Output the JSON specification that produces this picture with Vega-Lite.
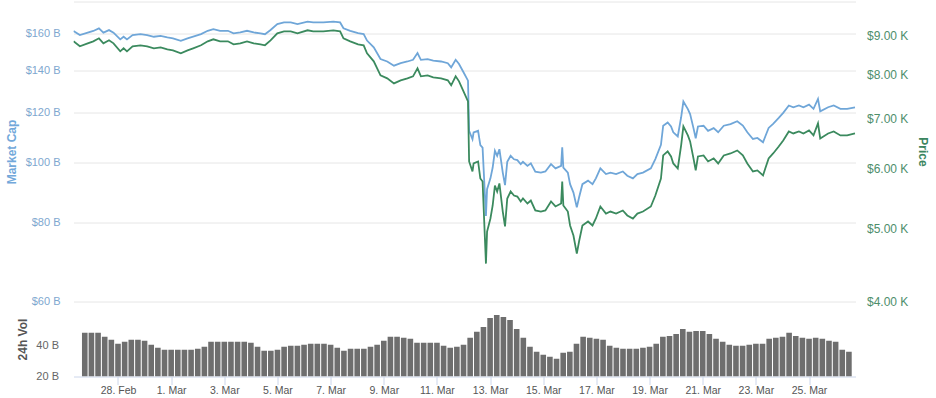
{
  "$schema": "https://vega.github.io/schema/vega-lite/v6.json",
  "padding": {"left": 4.5, "top": 1.5, "right": 4, "bottom": 1},
  "bounds": "flush",
  "spacing": 0,
  "background": "white",
  "config": {"view": {"stroke": null}, "font": "Liberation Sans"},
  "datasets": {
    "prices": [
      {"time": "2020-02-26T12:20", "price": 8855, "market_cap_b": 161.6},
      {"time": "2020-02-26T18:00", "price": 8721, "market_cap_b": 159.2},
      {"time": "2020-02-27T01:00", "price": 8801, "market_cap_b": 160.6},
      {"time": "2020-02-27T06:00", "price": 8855, "market_cap_b": 161.6},
      {"time": "2020-02-27T11:00", "price": 8937, "market_cap_b": 163.1},
      {"time": "2020-02-27T15:00", "price": 8801, "market_cap_b": 160.6},
      {"time": "2020-02-27T20:00", "price": 8882, "market_cap_b": 162.1},
      {"time": "2020-02-28T00:00", "price": 8801, "market_cap_b": 160.6},
      {"time": "2020-02-28T06:00", "price": 8589, "market_cap_b": 156.7},
      {"time": "2020-02-28T09:00", "price": 8668, "market_cap_b": 158.2},
      {"time": "2020-02-28T12:00", "price": 8589, "market_cap_b": 156.7},
      {"time": "2020-02-28T17:00", "price": 8721, "market_cap_b": 159.2},
      {"time": "2020-02-29T00:00", "price": 8748, "market_cap_b": 159.7},
      {"time": "2020-02-29T06:00", "price": 8721, "market_cap_b": 159.2},
      {"time": "2020-02-29T12:00", "price": 8668, "market_cap_b": 158.2},
      {"time": "2020-02-29T18:00", "price": 8694, "market_cap_b": 158.7},
      {"time": "2020-03-01T00:00", "price": 8641, "market_cap_b": 157.8},
      {"time": "2020-03-01T05:00", "price": 8615, "market_cap_b": 157.3},
      {"time": "2020-03-01T12:00", "price": 8536, "market_cap_b": 155.9},
      {"time": "2020-03-01T18:00", "price": 8615, "market_cap_b": 157.3},
      {"time": "2020-03-01T23:00", "price": 8668, "market_cap_b": 158.3},
      {"time": "2020-03-02T06:00", "price": 8748, "market_cap_b": 159.7},
      {"time": "2020-03-02T12:00", "price": 8855, "market_cap_b": 161.7},
      {"time": "2020-03-02T17:00", "price": 8910, "market_cap_b": 162.7},
      {"time": "2020-03-02T23:00", "price": 8855, "market_cap_b": 161.7},
      {"time": "2020-03-03T06:00", "price": 8855, "market_cap_b": 161.7},
      {"time": "2020-03-03T11:00", "price": 8774, "market_cap_b": 160.2},
      {"time": "2020-03-03T17:00", "price": 8801, "market_cap_b": 160.7},
      {"time": "2020-03-03T23:00", "price": 8855, "market_cap_b": 161.7},
      {"time": "2020-03-04T05:00", "price": 8801, "market_cap_b": 160.7},
      {"time": "2020-03-04T11:00", "price": 8774, "market_cap_b": 160.2},
      {"time": "2020-03-04T15:00", "price": 8748, "market_cap_b": 159.7},
      {"time": "2020-03-04T20:00", "price": 8882, "market_cap_b": 162.2},
      {"time": "2020-03-05T02:00", "price": 9075, "market_cap_b": 165.7},
      {"time": "2020-03-05T08:00", "price": 9130, "market_cap_b": 166.7},
      {"time": "2020-03-05T14:00", "price": 9130, "market_cap_b": 166.7},
      {"time": "2020-03-05T20:00", "price": 9075, "market_cap_b": 165.7},
      {"time": "2020-03-06T05:00", "price": 9158, "market_cap_b": 167.2},
      {"time": "2020-03-06T10:00", "price": 9130, "market_cap_b": 166.7},
      {"time": "2020-03-06T19:00", "price": 9130, "market_cap_b": 166.7},
      {"time": "2020-03-07T04:00", "price": 9158, "market_cap_b": 167.2},
      {"time": "2020-03-07T10:00", "price": 9130, "market_cap_b": 166.7},
      {"time": "2020-03-07T13:00", "price": 8937, "market_cap_b": 163.2},
      {"time": "2020-03-07T19:00", "price": 8855, "market_cap_b": 161.7},
      {"time": "2020-03-08T02:00", "price": 8774, "market_cap_b": 160.3},
      {"time": "2020-03-08T07:00", "price": 8748, "market_cap_b": 159.8},
      {"time": "2020-03-08T10:00", "price": 8536, "market_cap_b": 156.0},
      {"time": "2020-03-08T16:00", "price": 8329, "market_cap_b": 152.2},
      {"time": "2020-03-08T22:00", "price": 7981, "market_cap_b": 145.8},
      {"time": "2020-03-09T04:00", "price": 7908, "market_cap_b": 144.5},
      {"time": "2020-03-09T10:00", "price": 7788, "market_cap_b": 142.3},
      {"time": "2020-03-09T16:00", "price": 7860, "market_cap_b": 143.6},
      {"time": "2020-03-09T22:00", "price": 7908, "market_cap_b": 144.5},
      {"time": "2020-03-10T03:00", "price": 7957, "market_cap_b": 145.4},
      {"time": "2020-03-10T07:00", "price": 8153, "market_cap_b": 149.0},
      {"time": "2020-03-10T10:00", "price": 7957, "market_cap_b": 145.4},
      {"time": "2020-03-10T16:00", "price": 7981, "market_cap_b": 145.8},
      {"time": "2020-03-10T21:00", "price": 7932, "market_cap_b": 144.9},
      {"time": "2020-03-11T04:00", "price": 7908, "market_cap_b": 144.5},
      {"time": "2020-03-11T10:00", "price": 7860, "market_cap_b": 143.6},
      {"time": "2020-03-11T13:00", "price": 7741, "market_cap_b": 141.4},
      {"time": "2020-03-11T17:00", "price": 7957, "market_cap_b": 145.4},
      {"time": "2020-03-11T20:00", "price": 7836, "market_cap_b": 143.2},
      {"time": "2020-03-12T00:00", "price": 7600, "market_cap_b": 138.9},
      {"time": "2020-03-12T04:00", "price": 7371, "market_cap_b": 134.7},
      {"time": "2020-03-12T05:00", "price": 6135, "market_cap_b": 112.1},
      {"time": "2020-03-12T08:00", "price": 5950, "market_cap_b": 108.7},
      {"time": "2020-03-12T09:00", "price": 6098, "market_cap_b": 111.4},
      {"time": "2020-03-12T13:00", "price": 6135, "market_cap_b": 112.1},
      {"time": "2020-03-12T15:00", "price": 5824, "market_cap_b": 106.4},
      {"time": "2020-03-12T17:00", "price": 5771, "market_cap_b": 105.4},
      {"time": "2020-03-12T20:00", "price": 4491, "market_cap_b": 82.1},
      {"time": "2020-03-12T21:00", "price": 4953, "market_cap_b": 90.5},
      {"time": "2020-03-13T00:00", "price": 5154, "market_cap_b": 94.2},
      {"time": "2020-03-13T02:00", "price": 5363, "market_cap_b": 98.0},
      {"time": "2020-03-13T04:00", "price": 5701, "market_cap_b": 104.2},
      {"time": "2020-03-13T06:00", "price": 5597, "market_cap_b": 102.3},
      {"time": "2020-03-13T08:00", "price": 5736, "market_cap_b": 104.8},
      {"time": "2020-03-13T11:00", "price": 5265, "market_cap_b": 96.2},
      {"time": "2020-03-13T13:00", "price": 5030, "market_cap_b": 91.9},
      {"time": "2020-03-13T15:00", "price": 5479, "market_cap_b": 100.1},
      {"time": "2020-03-13T18:00", "price": 5597, "market_cap_b": 102.3},
      {"time": "2020-03-13T21:00", "price": 5529, "market_cap_b": 101.0},
      {"time": "2020-03-14T00:00", "price": 5512, "market_cap_b": 100.7},
      {"time": "2020-03-14T03:00", "price": 5429, "market_cap_b": 99.2},
      {"time": "2020-03-14T05:00", "price": 5479, "market_cap_b": 100.1},
      {"time": "2020-03-14T09:00", "price": 5396, "market_cap_b": 98.6},
      {"time": "2020-03-14T12:00", "price": 5445, "market_cap_b": 99.5},
      {"time": "2020-03-14T16:00", "price": 5282, "market_cap_b": 96.5},
      {"time": "2020-03-14T21:00", "price": 5265, "market_cap_b": 96.2},
      {"time": "2020-03-15T01:00", "price": 5282, "market_cap_b": 96.6},
      {"time": "2020-03-15T06:00", "price": 5429, "market_cap_b": 99.2},
      {"time": "2020-03-15T10:00", "price": 5347, "market_cap_b": 97.7},
      {"time": "2020-03-15T15:00", "price": 5396, "market_cap_b": 98.6},
      {"time": "2020-03-15T16:00", "price": 5771, "market_cap_b": 105.5},
      {"time": "2020-03-15T17:00", "price": 5363, "market_cap_b": 98.0},
      {"time": "2020-03-15T21:00", "price": 5265, "market_cap_b": 96.2},
      {"time": "2020-03-15T23:00", "price": 5045, "market_cap_b": 92.2},
      {"time": "2020-03-16T02:00", "price": 4893, "market_cap_b": 89.4},
      {"time": "2020-03-16T05:00", "price": 4631, "market_cap_b": 84.7},
      {"time": "2020-03-16T07:00", "price": 4804, "market_cap_b": 87.8},
      {"time": "2020-03-16T10:00", "price": 5045, "market_cap_b": 92.2},
      {"time": "2020-03-16T15:00", "price": 5107, "market_cap_b": 93.4},
      {"time": "2020-03-16T19:00", "price": 5045, "market_cap_b": 92.2},
      {"time": "2020-03-16T22:00", "price": 5154, "market_cap_b": 94.2},
      {"time": "2020-03-17T02:00", "price": 5347, "market_cap_b": 97.7},
      {"time": "2020-03-17T07:00", "price": 5233, "market_cap_b": 95.7},
      {"time": "2020-03-17T11:00", "price": 5265, "market_cap_b": 96.2},
      {"time": "2020-03-17T16:00", "price": 5233, "market_cap_b": 95.7},
      {"time": "2020-03-17T22:00", "price": 5282, "market_cap_b": 96.6},
      {"time": "2020-03-18T02:00", "price": 5202, "market_cap_b": 95.1},
      {"time": "2020-03-18T07:00", "price": 5154, "market_cap_b": 94.2},
      {"time": "2020-03-18T11:00", "price": 5233, "market_cap_b": 95.7},
      {"time": "2020-03-18T16:00", "price": 5265, "market_cap_b": 96.2},
      {"time": "2020-03-18T23:00", "price": 5347, "market_cap_b": 97.7},
      {"time": "2020-03-19T03:00", "price": 5529, "market_cap_b": 101.1},
      {"time": "2020-03-19T08:00", "price": 5824, "market_cap_b": 106.5},
      {"time": "2020-03-19T10:00", "price": 6249, "market_cap_b": 114.2},
      {"time": "2020-03-19T14:00", "price": 6326, "market_cap_b": 115.6},
      {"time": "2020-03-19T17:00", "price": 6230, "market_cap_b": 113.9},
      {"time": "2020-03-19T19:00", "price": 6098, "market_cap_b": 111.5},
      {"time": "2020-03-19T23:00", "price": 6005, "market_cap_b": 109.8},
      {"time": "2020-03-20T02:00", "price": 6443, "market_cap_b": 117.8},
      {"time": "2020-03-20T04:00", "price": 6828, "market_cap_b": 124.8},
      {"time": "2020-03-20T08:00", "price": 6643, "market_cap_b": 121.4},
      {"time": "2020-03-20T10:00", "price": 6522, "market_cap_b": 119.2},
      {"time": "2020-03-20T13:00", "price": 6192, "market_cap_b": 113.2},
      {"time": "2020-03-20T15:00", "price": 5969, "market_cap_b": 109.1},
      {"time": "2020-03-20T17:00", "price": 6230, "market_cap_b": 113.9},
      {"time": "2020-03-20T22:00", "price": 6249, "market_cap_b": 114.2},
      {"time": "2020-03-21T02:00", "price": 6135, "market_cap_b": 112.1},
      {"time": "2020-03-21T07:00", "price": 6192, "market_cap_b": 113.2},
      {"time": "2020-03-21T11:00", "price": 6098, "market_cap_b": 111.5},
      {"time": "2020-03-21T16:00", "price": 6249, "market_cap_b": 114.2},
      {"time": "2020-03-21T22:00", "price": 6287, "market_cap_b": 114.9},
      {"time": "2020-03-22T04:00", "price": 6345, "market_cap_b": 116.1},
      {"time": "2020-03-22T09:00", "price": 6249, "market_cap_b": 114.3},
      {"time": "2020-03-22T13:00", "price": 6098, "market_cap_b": 111.5},
      {"time": "2020-03-22T18:00", "price": 5950, "market_cap_b": 108.8},
      {"time": "2020-03-22T22:00", "price": 5969, "market_cap_b": 109.2},
      {"time": "2020-03-23T03:00", "price": 5878, "market_cap_b": 107.5},
      {"time": "2020-03-23T05:00", "price": 6005, "market_cap_b": 109.8},
      {"time": "2020-03-23T08:00", "price": 6192, "market_cap_b": 113.3},
      {"time": "2020-03-23T12:00", "price": 6287, "market_cap_b": 115.0},
      {"time": "2020-03-23T17:00", "price": 6423, "market_cap_b": 117.5},
      {"time": "2020-03-23T21:00", "price": 6542, "market_cap_b": 119.7},
      {"time": "2020-03-24T02:00", "price": 6724, "market_cap_b": 123.0},
      {"time": "2020-03-24T06:00", "price": 6683, "market_cap_b": 122.2},
      {"time": "2020-03-24T11:00", "price": 6724, "market_cap_b": 123.0},
      {"time": "2020-03-24T15:00", "price": 6683, "market_cap_b": 122.2},
      {"time": "2020-03-24T20:00", "price": 6745, "market_cap_b": 123.4},
      {"time": "2020-03-25T00:00", "price": 6643, "market_cap_b": 121.5},
      {"time": "2020-03-25T04:00", "price": 6891, "market_cap_b": 126.0},
      {"time": "2020-03-25T06:00", "price": 6582, "market_cap_b": 120.4},
      {"time": "2020-03-25T13:00", "price": 6683, "market_cap_b": 122.2},
      {"time": "2020-03-25T18:00", "price": 6724, "market_cap_b": 123.0},
      {"time": "2020-03-26T00:00", "price": 6643, "market_cap_b": 121.5},
      {"time": "2020-03-26T06:00", "price": 6643, "market_cap_b": 121.5},
      {"time": "2020-03-26T13:00", "price": 6683, "market_cap_b": 122.2}
    ],
    "volume": [
      {"time": "2020-02-26T18:00", "volume_b": 48.2},
      {"time": "2020-02-27T00:00", "volume_b": 48.2},
      {"time": "2020-02-27T06:00", "volume_b": 48.2},
      {"time": "2020-02-27T12:00", "volume_b": 45.6},
      {"time": "2020-02-27T18:00", "volume_b": 43.7},
      {"time": "2020-02-28T00:00", "volume_b": 41.1},
      {"time": "2020-02-28T06:00", "volume_b": 42.4},
      {"time": "2020-02-28T12:00", "volume_b": 43.7},
      {"time": "2020-02-28T18:00", "volume_b": 43.7},
      {"time": "2020-02-29T00:00", "volume_b": 43.0},
      {"time": "2020-02-29T06:00", "volume_b": 40.5},
      {"time": "2020-02-29T12:00", "volume_b": 38.6},
      {"time": "2020-02-29T18:00", "volume_b": 37.3},
      {"time": "2020-03-01T00:00", "volume_b": 37.3},
      {"time": "2020-03-01T06:00", "volume_b": 37.3},
      {"time": "2020-03-01T12:00", "volume_b": 37.3},
      {"time": "2020-03-01T18:00", "volume_b": 37.3},
      {"time": "2020-03-02T00:00", "volume_b": 37.9},
      {"time": "2020-03-02T06:00", "volume_b": 39.2},
      {"time": "2020-03-02T12:00", "volume_b": 42.4},
      {"time": "2020-03-02T18:00", "volume_b": 42.4},
      {"time": "2020-03-03T00:00", "volume_b": 42.4},
      {"time": "2020-03-03T06:00", "volume_b": 42.4},
      {"time": "2020-03-03T12:00", "volume_b": 42.4},
      {"time": "2020-03-03T18:00", "volume_b": 42.4},
      {"time": "2020-03-04T00:00", "volume_b": 41.8},
      {"time": "2020-03-04T06:00", "volume_b": 39.2},
      {"time": "2020-03-04T12:00", "volume_b": 36.6},
      {"time": "2020-03-04T18:00", "volume_b": 36.6},
      {"time": "2020-03-05T00:00", "volume_b": 37.3},
      {"time": "2020-03-05T06:00", "volume_b": 39.2},
      {"time": "2020-03-05T12:00", "volume_b": 39.8},
      {"time": "2020-03-05T18:00", "volume_b": 39.8},
      {"time": "2020-03-06T00:00", "volume_b": 40.5},
      {"time": "2020-03-06T06:00", "volume_b": 41.1},
      {"time": "2020-03-06T12:00", "volume_b": 41.1},
      {"time": "2020-03-06T18:00", "volume_b": 41.1},
      {"time": "2020-03-07T00:00", "volume_b": 40.5},
      {"time": "2020-03-07T06:00", "volume_b": 38.6},
      {"time": "2020-03-07T12:00", "volume_b": 36.6},
      {"time": "2020-03-07T18:00", "volume_b": 37.9},
      {"time": "2020-03-08T00:00", "volume_b": 37.9},
      {"time": "2020-03-08T06:00", "volume_b": 37.9},
      {"time": "2020-03-08T12:00", "volume_b": 39.2},
      {"time": "2020-03-08T18:00", "volume_b": 40.5},
      {"time": "2020-03-09T00:00", "volume_b": 43.0},
      {"time": "2020-03-09T06:00", "volume_b": 45.6},
      {"time": "2020-03-09T12:00", "volume_b": 45.6},
      {"time": "2020-03-09T18:00", "volume_b": 45.0},
      {"time": "2020-03-10T00:00", "volume_b": 44.3},
      {"time": "2020-03-10T06:00", "volume_b": 41.8},
      {"time": "2020-03-10T12:00", "volume_b": 41.8},
      {"time": "2020-03-10T18:00", "volume_b": 41.8},
      {"time": "2020-03-11T00:00", "volume_b": 41.8},
      {"time": "2020-03-11T06:00", "volume_b": 39.8},
      {"time": "2020-03-11T12:00", "volume_b": 38.6},
      {"time": "2020-03-11T18:00", "volume_b": 39.2},
      {"time": "2020-03-12T00:00", "volume_b": 40.5},
      {"time": "2020-03-12T06:00", "volume_b": 45.0},
      {"time": "2020-03-12T12:00", "volume_b": 48.8},
      {"time": "2020-03-12T18:00", "volume_b": 52.0},
      {"time": "2020-03-13T00:00", "volume_b": 57.8},
      {"time": "2020-03-13T06:00", "volume_b": 59.7},
      {"time": "2020-03-13T12:00", "volume_b": 58.4},
      {"time": "2020-03-13T18:00", "volume_b": 56.5},
      {"time": "2020-03-14T00:00", "volume_b": 50.7},
      {"time": "2020-03-14T06:00", "volume_b": 45.0},
      {"time": "2020-03-14T12:00", "volume_b": 39.2},
      {"time": "2020-03-14T18:00", "volume_b": 36.0},
      {"time": "2020-03-15T00:00", "volume_b": 34.1},
      {"time": "2020-03-15T06:00", "volume_b": 32.8},
      {"time": "2020-03-15T12:00", "volume_b": 31.5},
      {"time": "2020-03-15T18:00", "volume_b": 35.4},
      {"time": "2020-03-16T00:00", "volume_b": 36.0},
      {"time": "2020-03-16T06:00", "volume_b": 41.1},
      {"time": "2020-03-16T12:00", "volume_b": 45.6},
      {"time": "2020-03-16T18:00", "volume_b": 45.0},
      {"time": "2020-03-17T00:00", "volume_b": 44.3},
      {"time": "2020-03-17T06:00", "volume_b": 43.7},
      {"time": "2020-03-17T12:00", "volume_b": 39.8},
      {"time": "2020-03-17T18:00", "volume_b": 38.6},
      {"time": "2020-03-18T00:00", "volume_b": 37.9},
      {"time": "2020-03-18T06:00", "volume_b": 37.9},
      {"time": "2020-03-18T12:00", "volume_b": 37.9},
      {"time": "2020-03-18T18:00", "volume_b": 38.6},
      {"time": "2020-03-19T00:00", "volume_b": 39.2},
      {"time": "2020-03-19T06:00", "volume_b": 41.1},
      {"time": "2020-03-19T12:00", "volume_b": 45.6},
      {"time": "2020-03-19T18:00", "volume_b": 46.2},
      {"time": "2020-03-20T00:00", "volume_b": 47.5},
      {"time": "2020-03-20T06:00", "volume_b": 50.7},
      {"time": "2020-03-20T12:00", "volume_b": 48.8},
      {"time": "2020-03-20T18:00", "volume_b": 49.4},
      {"time": "2020-03-21T00:00", "volume_b": 49.4},
      {"time": "2020-03-21T06:00", "volume_b": 47.5},
      {"time": "2020-03-21T12:00", "volume_b": 44.3},
      {"time": "2020-03-21T18:00", "volume_b": 42.4},
      {"time": "2020-03-22T00:00", "volume_b": 40.5},
      {"time": "2020-03-22T06:00", "volume_b": 39.8},
      {"time": "2020-03-22T12:00", "volume_b": 39.8},
      {"time": "2020-03-22T18:00", "volume_b": 40.5},
      {"time": "2020-03-23T00:00", "volume_b": 41.1},
      {"time": "2020-03-23T06:00", "volume_b": 41.1},
      {"time": "2020-03-23T12:00", "volume_b": 44.3},
      {"time": "2020-03-23T18:00", "volume_b": 45.0},
      {"time": "2020-03-24T00:00", "volume_b": 45.6},
      {"time": "2020-03-24T06:00", "volume_b": 48.2},
      {"time": "2020-03-24T12:00", "volume_b": 46.2},
      {"time": "2020-03-24T18:00", "volume_b": 45.0},
      {"time": "2020-03-25T00:00", "volume_b": 44.3},
      {"time": "2020-03-25T06:00", "volume_b": 45.0},
      {"time": "2020-03-25T12:00", "volume_b": 44.3},
      {"time": "2020-03-25T18:00", "volume_b": 43.0},
      {"time": "2020-03-26T00:00", "volume_b": 42.4},
      {"time": "2020-03-26T06:00", "volume_b": 37.3},
      {"time": "2020-03-26T12:00", "volume_b": 36.0}
    ]
  },
  "vconcat": [
    {
      "width": 782,
      "height": 300,
      "data": {"name": "prices"},
      "encoding": {
        "x": {
          "field": "time",
          "type": "temporal",
          "scale": {"domain": [{"year": 2020, "month": 2, "date": 26, "hours": 12, "minutes": 20}, {"year": 2020, "month": 3, "date": 26, "hours": 13, "minutes": 26}]},
          "axis": null
        }
      },
      "layer": [
        {
          "mark": {"type": "line", "color": "#6fa6d8", "strokeWidth": 1.8, "clip": true},
          "encoding": {
            "y": {
              "field": "market_cap_b",
              "type": "quantitative",
              "scale": {"type": "log", "domain": [60, 180], "nice": false},
              "axis": {
                "values": [60, 80, 100, 120, 140, 160, 180],
                "labelExpr": "datum.value >= 180 ? '' : '$' + datum.value + ' B'",
                "labelFontSize": {"condition": {"test": "datum.value >= 180", "value": 0}, "value": 11},
                "grid": true,
                "gridColor": "#e6e6e6",
                "ticks": false,
                "domain": false,
                "labelFlush": false,
                "labelOverlap": false,
                "labelPadding": 13.5,
                "labelColor": "#7ea7cf",
                "labelFont": "Liberation Sans",
                "title": "Market Cap",
                "titleColor": "#72a8da",
                "titleFont": "Liberation Sans",
                "titleFontSize": 12,
                "titleFontWeight": "bold",
                "titleX": -62.5,
                "titleY": 150,
                "titleAngle": -90,
                "titleBaseline": "middle",
                "titleAlign": "center"
              }
            }
          }
        },
        {
          "mark": {"type": "line", "color": "#3b8a5e", "strokeWidth": 1.8, "clip": true},
          "encoding": {
            "y": {
              "field": "price",
              "type": "quantitative",
              "scale": {"type": "log", "domain": [4000, 10000], "nice": false},
              "axis": {
                "orient": "right",
                "values": [4000, 5000, 6000, 7000, 8000, 9000],
                "labelExpr": "'$' + format(datum.value / 1000, '.2f') + ' K'",
                "grid": false,
                "ticks": false,
                "domain": false,
                "labelFlush": false,
                "labelOverlap": false,
                "labelPadding": 11,
                "labelColor": "#4e8e6b",
                "labelFont": "Liberation Sans",
                "labelFontSize": 12,
                "title": "Price",
                "titleColor": "#3b8560",
                "titleFont": "Liberation Sans",
                "titleFontSize": 12,
                "titleFontWeight": "bold",
                "titleX": 66.7,
                "titleY": 150,
                "titleAngle": 90,
                "titleBaseline": "middle",
                "titleAlign": "center"
              }
            }
          }
        }
      ],
      "resolve": {"scale": {"y": "independent"}}
    },
    {
      "width": 782,
      "height": 75,
      "data": {"name": "volume"},
      "mark": {"type": "bar", "color": "#6e6e6e", "size": 5.6, "clip": true},
      "encoding": {
        "x": {
          "field": "time",
          "type": "temporal",
          "scale": {"domain": [{"year": 2020, "month": 2, "date": 26, "hours": 12, "minutes": 20}, {"year": 2020, "month": 3, "date": 26, "hours": 13, "minutes": 26}]},
          "axis": {
            "values": [
              {"year": 2020, "month": 2, "date": 28},
              {"year": 2020, "month": 3, "date": 1},
              {"year": 2020, "month": 3, "date": 3},
              {"year": 2020, "month": 3, "date": 5},
              {"year": 2020, "month": 3, "date": 7},
              {"year": 2020, "month": 3, "date": 9},
              {"year": 2020, "month": 3, "date": 11},
              {"year": 2020, "month": 3, "date": 13},
              {"year": 2020, "month": 3, "date": 15},
              {"year": 2020, "month": 3, "date": 17},
              {"year": 2020, "month": 3, "date": 19},
              {"year": 2020, "month": 3, "date": 21},
              {"year": 2020, "month": 3, "date": 23},
              {"year": 2020, "month": 3, "date": 25}
            ],
            "format": "%-d. %b",
            "labelFont": "Liberation Sans",
            "labelFontSize": 10.5,
            "labelColor": "#555555",
            "labelFlush": false,
            "labelOverlap": false,
            "labelPadding": 1,
            "tickColor": "#ccd6eb",
            "tickSize": 8,
            "domainColor": "#ccd6eb",
            "grid": false,
            "title": null
          }
        },
        "y": {
          "field": "volume_b",
          "type": "quantitative",
          "scale": {"domain": [20, 68.4], "zero": false, "nice": false},
          "axis": {
            "values": [20, 40],
            "labelExpr": "datum.value + ' B'",
            "grid": false,
            "ticks": false,
            "domain": false,
            "labelFlush": false,
            "labelOverlap": false,
            "labelPadding": 15,
            "labelColor": "#666666",
            "labelFont": "Liberation Sans",
            "labelFontSize": 11,
            "title": "24h Vol",
            "titleColor": "#555555",
            "titleFont": "Liberation Sans",
            "titleFontSize": 12,
            "titleFontWeight": "bold",
            "titleX": -51.3,
            "titleY": 37.5,
            "titleAngle": -90,
            "titleBaseline": "middle",
            "titleAlign": "center"
          }
        },
        "y2": {"datum": 20}
      }
    }
  ]
}
